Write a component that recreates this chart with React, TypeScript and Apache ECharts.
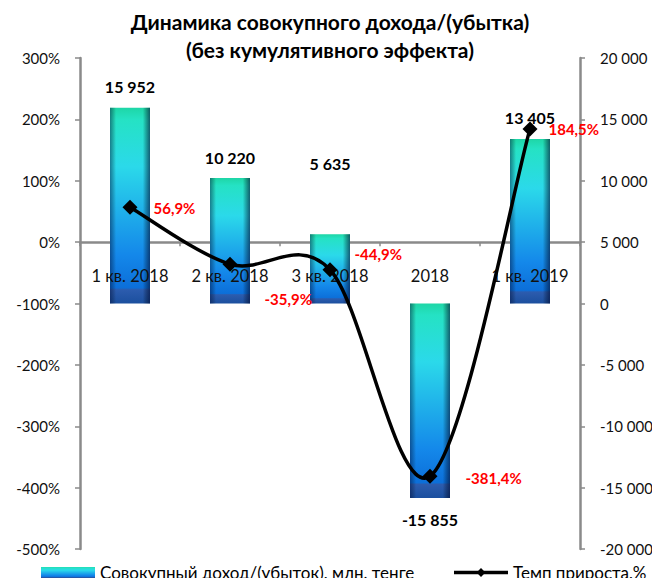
import React, { useEffect, useRef } from "react";
import * as echarts from "echarts";

const categories = ["1 кв. 2018", "2 кв. 2018", "3 кв. 2018", "2018", "1 кв. 2019"];
const incomeValues = [15952, 10220, 5635, -15855, 13405];
const growthValues = [56.9, -35.9, -44.9, -381.4, 184.5];
const leftTicks = { min: -500, max: 300, interval: 100 };
const rightTicks = { min: -20000, max: 20000, interval: 5000 };

const FONT = "Lato";
const fmtNum = (v: number) => {
  const s = Math.abs(v).toString().replace(/\B(?=(\d{3})+(?!\d))/g, " ");
  return (v < 0 ? "-" : "") + s;
};
const fmtPct = (v: number) => v.toFixed(1).replace(".", ",") + "%";

const growthLabelOffsets = [[11, 1], [22, 35], [12, -16], [23, 2], [6, 0]];
const barLabelOffsets = [[0, 0], [0, 0], [0, -50], [0, 0], [0, 0]];

export default function App() {
  const ref = useRef<HTMLDivElement>(null);
  useEffect(() => {
    if (!ref.current) return;
    const chart = echarts.init(ref.current, undefined, { renderer: "svg" });
    const barFill = new echarts.graphic.LinearGradient(0, 0, 0, 1, [
      { offset: 0, color: "#1ed6a6" },
      { offset: 0.06, color: "#25e2c4" },
      { offset: 0.3, color: "#2bd9ea" },
      { offset: 0.75, color: "#1488ea" },
      { offset: 0.92, color: "#0c6fd9" },
      { offset: 0.93, color: "#2c5cae" },
      { offset: 1, color: "#1b4f9e" },
    ]);
    const edgeShade = new echarts.graphic.LinearGradient(0, 0, 1, 0, [
      { offset: 0, color: "rgba(0,10,50,0.45)" },
      { offset: 0.15, color: "rgba(0,0,0,0)" },
      { offset: 0.82, color: "rgba(0,0,0,0)" },
      { offset: 1, color: "rgba(0,10,50,0.6)" },
    ]);

    // Catmull-Rom style smoothing (like Excel), built from axis coordinates
    const renderSegment = (params: any, api: any) => {
      const i = params.dataIndex;
      const n = growthValues.length;
      if (i >= n - 1) return null;
      const pt = (j: number) => {
        const k = Math.max(0, Math.min(n - 1, j));
        return api.coord([k, growthValues[k]]);
      };
      const p0 = pt(i - 1), p1 = pt(i), p2 = pt(i + 1), p3 = pt(i + 2);
      const t = 1 / 6;
      return {
        type: "bezierCurve",
        shape: {
          x1: p1[0], y1: p1[1],
          x2: p2[0], y2: p2[1],
          cpx1: p1[0] + (p2[0] - p0[0]) * t,
          cpy1: p1[1] + (p2[1] - p0[1]) * t,
          cpx2: p2[0] - (p3[0] - p1[0]) * t,
          cpy2: p2[1] - (p3[1] - p1[1]) * t,
        },
        style: { stroke: "#000", lineWidth: 3.5, fill: null },
      };
    };

    chart.setOption({
      animation: false,
      textStyle: { fontFamily: FONT },
      title: {
        text: "Динамика совокупного дохода/(убытка)\n(без кумулятивного эффекта)",
        left: "center",
        top: 2,
        textStyle: { fontFamily: FONT, fontWeight: "bold", fontSize: 21, lineHeight: 28, color: "#000" },
      },
      grid: { left: 80, right: 80, top: 58, bottom: 37, containLabel: false },
      legend: {
        bottom: 0,
        left: 36,
        itemGap: 38,
        itemWidth: 54,
        itemHeight: 11,
        data: [
          { name: "Совокупный доход/(убыток), млн. тенге", icon: "rect" },
          { name: "Темп прироста,%", lineStyle: { opacity: 1, width: 3.5, color: "#000" } },
        ],
        textStyle: { fontFamily: FONT, fontSize: 17, color: "#000" },
      },
      xAxis: [
        {
          type: "category",
          data: categories,
          axisLine: { onZero: true, onZeroAxisIndex: 0, lineStyle: { color: "#8a8a8a", width: 2.5 } },
          axisTick: { show: true, length: 4, lineStyle: { color: "#8a8a8a", width: 1.5 } },
          axisLabel: { show: false },
          splitLine: { show: false },
          z: 1,
        },
        {
          type: "category",
          data: categories,
          position: "bottom",
          offset: -307,
          axisLine: { show: false, onZero: false },
          axisTick: { show: false },
          axisLabel: { interval: 0, margin: 25, fontSize: 16.5, color: "#111", fontFamily: FONT },
          splitLine: { show: false },
          z: 4,
        },
      ],
      yAxis: [
        {
          type: "value",
          min: leftTicks.min,
          max: leftTicks.max,
          interval: leftTicks.interval,
          position: "left",
          axisLine: { show: true, lineStyle: { color: "#8a8a8a", width: 2.5 } },
          axisTick: { show: true, length: 5, lineStyle: { color: "#8a8a8a", width: 1.5 } },
          axisLabel: { formatter: (v: number) => v + "%", fontSize: 15, color: "#111", margin: 20, fontFamily: FONT },
          splitLine: { show: false },
        },
        {
          type: "value",
          min: rightTicks.min,
          max: rightTicks.max,
          interval: rightTicks.interval,
          position: "right",
          axisLine: { show: true, lineStyle: { color: "#8a8a8a", width: 2.5 } },
          axisTick: { show: true, length: 5, lineStyle: { color: "#8a8a8a", width: 1.5 } },
          axisLabel: { formatter: (v: number) => fmtNum(v), fontSize: 15, color: "#111", margin: 20, fontFamily: FONT },
          splitLine: { show: false },
        },
      ],
      series: [
        {
          name: "Совокупный доход/(убыток), млн. тенге",
          type: "bar",
          xAxisIndex: 0,
          yAxisIndex: 1,
          barWidth: 40,
          itemStyle: { color: barFill },
          data: incomeValues.map((v, i) => ({
            value: v,
            label: {
              position: v < 0 ? "bottom" : "top",
              offset: barLabelOffsets[i],
            },
          })),
          label: {
            show: true,
            distance: 13,
            formatter: (p: any) => fmtNum(p.value),
            fontSize: 16,
            fontWeight: "bold",
            color: "#000",
            fontFamily: FONT,
          },
          z: 2,
        },
        {
          name: "shade",
          type: "bar",
          xAxisIndex: 0,
          yAxisIndex: 1,
          barWidth: 40,
          barGap: "-100%",
          silent: true,
          itemStyle: { color: edgeShade },
          data: incomeValues,
          z: 3,
        },
        {
          name: "curve",
          type: "custom",
          xAxisIndex: 0,
          yAxisIndex: 0,
          silent: true,
          renderItem: renderSegment,
          data: growthValues.map((v, i) => [i, v]),
          z: 5,
        },
        {
          name: "Темп прироста,%",
          type: "line",
          xAxisIndex: 0,
          yAxisIndex: 0,
          symbol: "diamond",
          symbolSize: 15,
          lineStyle: { color: "#000", width: 3.5, opacity: 0 },
          itemStyle: { color: "#000" },
          data: growthValues.map((v, i) => ({
            value: v,
            label: { offset: growthLabelOffsets[i] },
          })),
          label: {
            show: true,
            position: "right",
            distance: 5,
            formatter: (p: any) => fmtPct(p.value),
            fontSize: 15,
            fontWeight: "bold",
            color: "#ff0000",
            fontFamily: FONT,
          },
          z: 6,
        },
      ],
    });
    return () => chart.dispose();
  }, []);
  return <div ref={ref} style={{ width: 660, height: 586, margin: -8 }} />;
}
